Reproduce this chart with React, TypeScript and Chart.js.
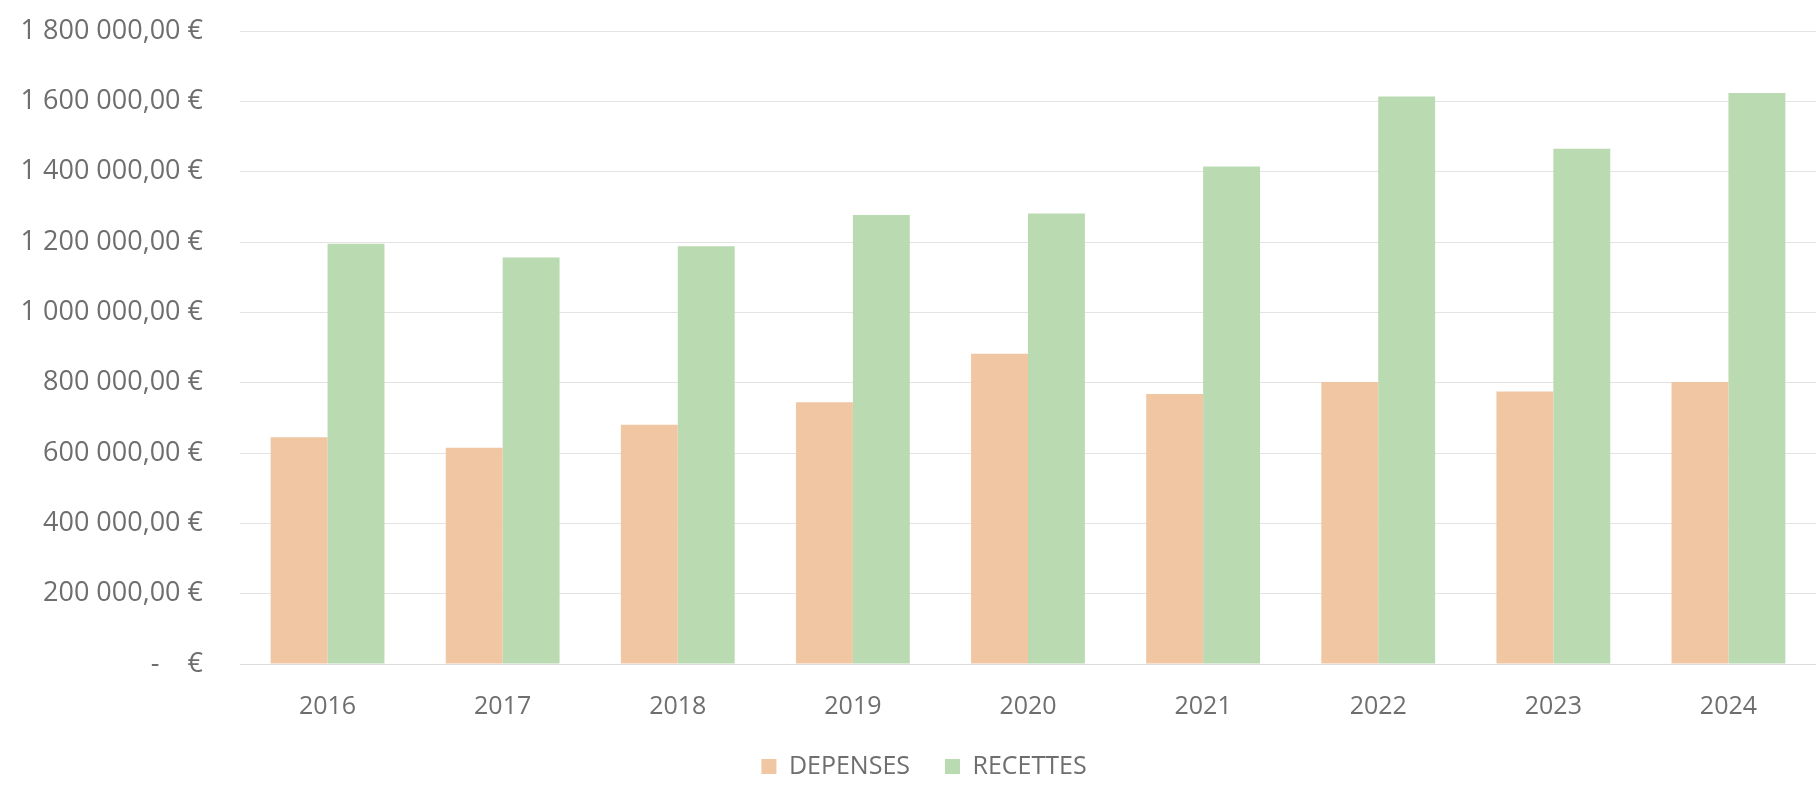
import React, { useEffect, useRef } from "react";
import { Chart, registerables } from "chart.js";

Chart.register(...registerables);

const years = ["2016", "2017", "2018", "2019", "2020", "2021", "2022", "2023", "2024"];
const depenses = [645000, 615000, 680000, 744000, 882000, 768000, 802000, 775000, 802000];
const recettes = [1195000, 1156000, 1188000, 1277000, 1281000, 1415000, 1614000, 1465000, 1624000];
const seriesNames = ["DEPENSES", "RECETTES"];
const yMin = 0;
const yMax = 1800000;
const yStep = 200000;

const fmtEuro = (v: number) => {
  if (v === 0) return "-    €";
  const s = Math.round(v).toString().replace(/\B(?=(\d{3})+(?!\d))/g, " ");
  return s + ",00 €";
};

const legendShift = {
  id: "legendShift",
  afterLayout(chart: any) {
    const l = chart.legend;
    if (l) {
      l.left += 16;
      l.right += 16;
    }
  },
};

export default function App() {
  const ref = useRef<HTMLCanvasElement | null>(null);
  useEffect(() => {
    document.body.style.margin = "0";
    document.body.style.overflow = "hidden";
    const canvas = ref.current;
    if (!canvas) return;
    const font = { family: "'Open Sans', sans-serif", size: 25 };
    const yFont = { family: "'Open Sans', sans-serif", size: 27 };
    const textColor = "#6e6e6e";
    const chart = new Chart(canvas, {
      type: "bar",
      plugins: [legendShift],
      data: {
        labels: years,
        datasets: [
          {
            label: seriesNames[0],
            data: depenses,
            backgroundColor: "#f1c6a3",
            borderWidth: 0,
            categoryPercentage: 0.65,
            barPercentage: 1.0,
          },
          {
            label: seriesNames[1],
            data: recettes,
            backgroundColor: "#badab1",
            borderWidth: 0,
            categoryPercentage: 0.65,
            barPercentage: 1.0,
          },
        ],
      },
      options: {
        responsive: false,
        animation: false,
        devicePixelRatio: 1,
        layout: { padding: { top: 31, left: 0, right: 0, bottom: -4 } },
        plugins: {
          legend: {
            position: "bottom",
            align: "center",
            labels: {
              font,
              color: textColor,
              boxWidth: 15,
              boxHeight: 15,
              padding: 35,
            },
          },
          tooltip: { enabled: false },
        },
        scales: {
          x: {
            grid: { display: false, drawTicks: false },
            border: { display: true, color: "#dcdcdc", width: 1 },
            ticks: { font, color: textColor, padding: 28 },
            afterFit: (scale: any) => {
              scale.height = 55;
            },
          },
          y: {
            min: yMin,
            max: yMax,
            grid: { color: "#e3e3e3", lineWidth: 1, drawTicks: false },
            border: { display: false },
            ticks: {
              stepSize: yStep,
              autoSkip: false,
              font: yFont,
              color: textColor,
              padding: 37,
              callback: (v: any) => fmtEuro(Number(v)),
            },
            afterFit: (scale: any) => {
              scale.width = 240;
              scale.paddingTop = 0;
              scale.paddingBottom = 0;
            },
          },
        },
      },
    });
    return () => chart.destroy();
  }, []);
  return (
    <div style={{ width: 1816, height: 785 }}>
      <canvas ref={ref} width={1816} height={785} style={{ display: "block", width: 1816, height: 785 }} />
    </div>
  );
}
